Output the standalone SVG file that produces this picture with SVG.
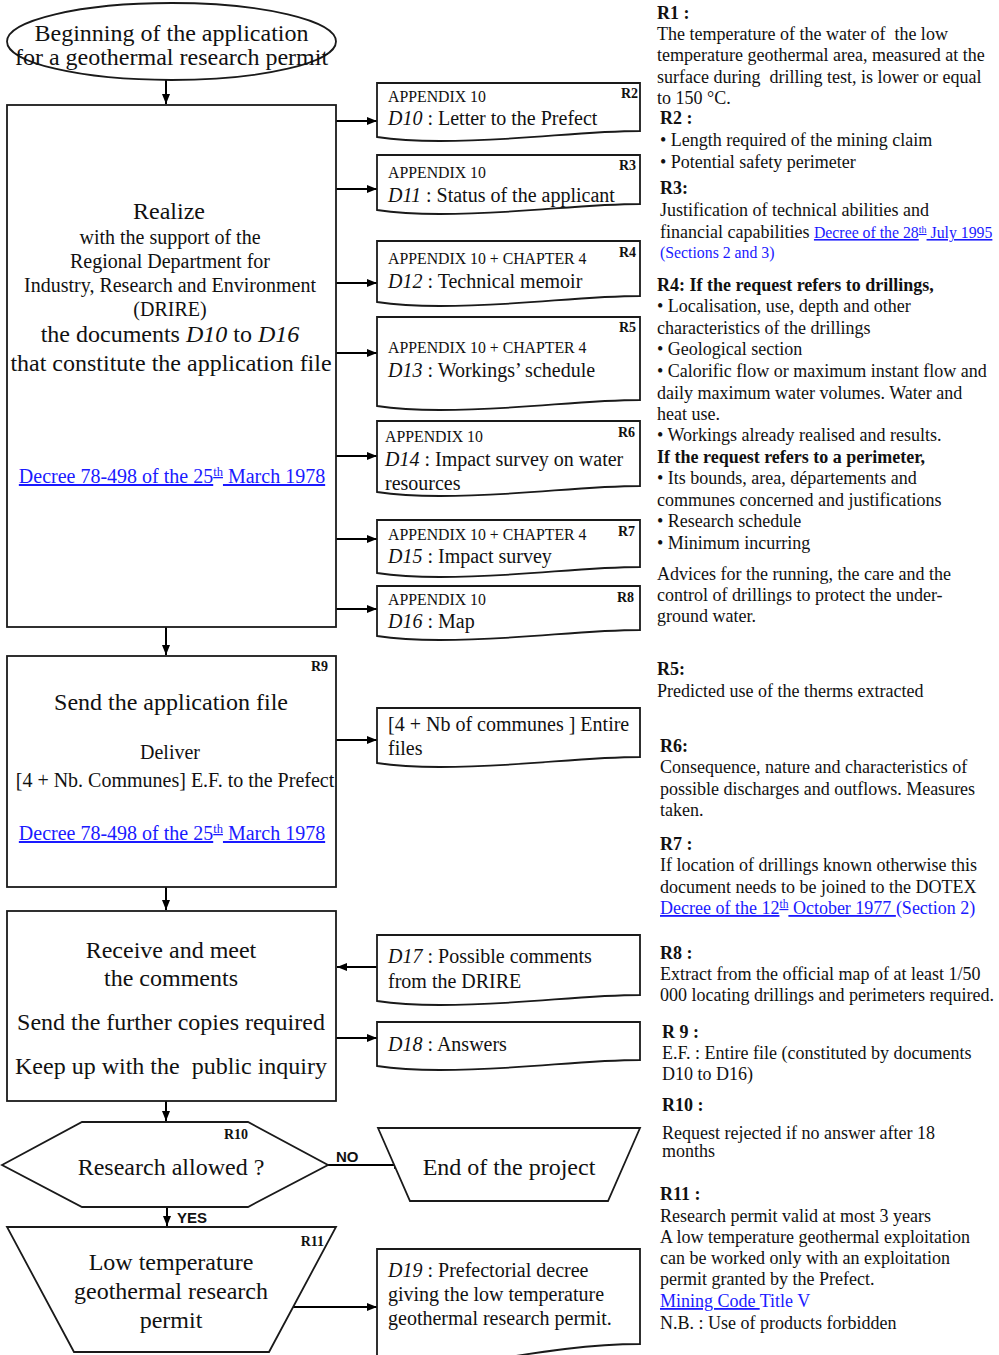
<svg xmlns="http://www.w3.org/2000/svg" width="999" height="1355" viewBox="0 0 999 1355">
  <defs>
    <marker id="ah" viewBox="0 0 10 10" refX="10" refY="5" markerWidth="10" markerHeight="10" markerUnits="userSpaceOnUse" orient="auto">
      <path d="M0,1 L10,5 L0,9 z" fill="#000"/>
    </marker>
  </defs>
  <style>
    .shape { fill: #fff; stroke: #1a1a1a; stroke-width: 1.8; }
    .conn { fill: none; stroke: #000; stroke-width: 2; marker-end: url(#ah); }
    text { font-family: "Liberation Serif", "Times New Roman", serif; fill: #111; }
    .big { font-size: 24px; }
    .mid { font-size: 20px; }
    .doc { font-size: 20px; }
    .app { font-size: 15.8px; }
    .ref { font-size: 14px; font-weight: bold; }
    .note { font-size: 18px; }
    .noteb { font-size: 18px; font-weight: bold; }
    .link { fill: #1a1aff; text-decoration: underline; }
    .blue { fill: #1a1aff; }
    .small { font-size: 15.8px; }
    .lbl { font-family: "Liberation Sans", Arial, sans-serif; font-size: 15px; font-weight: bold; }
    .c { text-anchor: middle; }
    .r { text-anchor: end; }
  </style>

  <!-- Connectors -->
  <g id="connectors">
    <line class="conn" x1="166" y1="80" x2="166" y2="104"/>
    <line class="conn" x1="336" y1="121" x2="377" y2="121"/>
    <line class="conn" x1="336" y1="189" x2="377" y2="189"/>
    <line class="conn" x1="336" y1="283" x2="377" y2="283"/>
    <line class="conn" x1="336" y1="353" x2="377" y2="353"/>
    <line class="conn" x1="336" y1="456" x2="377" y2="456"/>
    <line class="conn" x1="336" y1="539" x2="377" y2="539"/>
    <line class="conn" x1="336" y1="609" x2="377" y2="609"/>
    <line class="conn" x1="166" y1="627" x2="166" y2="655"/>
    <line class="conn" x1="336" y1="740" x2="377" y2="740"/>
    <line class="conn" x1="166" y1="887" x2="166" y2="910"/>
    <line class="conn" x1="377" y1="967" x2="337" y2="967"/>
    <line class="conn" x1="336" y1="1038" x2="377" y2="1038"/>
    <line class="conn" x1="166" y1="1101" x2="166" y2="1121"/>
    <line class="conn" x1="328" y1="1165" x2="404" y2="1165"/>
    <line class="conn" x1="167" y1="1207" x2="167" y2="1226"/>
    <line class="conn" x1="293" y1="1307" x2="377" y2="1307"/>
    <text class="lbl" x="336" y="1162">NO</text>
    <text class="lbl" x="177" y="1223">YES</text>
  </g>

  <!-- Start terminator -->
  <g id="start">
    <ellipse class="shape" cx="171.5" cy="41.5" rx="164.5" ry="38.5"/>
    <text class="big c" x="171.5" y="41">Beginning of the application</text>
    <text class="big c" x="171.5" y="65">for a geothermal research permit</text>
  </g>

  <!-- Realize documents -->
  <g id="realize">
    <rect class="shape" x="7" y="105" width="329" height="522"/>
    <text class="big c" x="169" y="219">Realize</text>
    <text class="mid c" x="170" y="244">with the support of the</text>
    <text class="mid c" x="170" y="268">Regional Department for</text>
    <text class="mid c" x="170" y="292">Industry, Research and Environment</text>
    <text class="mid c" x="170" y="316">(DRIRE)</text>
    <text class="big c" x="170" y="342">the documents <tspan font-style="italic">D10</tspan> to <tspan font-style="italic">D16</tspan></text>
    <text class="big c" x="171" y="371">that constitute the application file</text>
    <text class="link c" x="172" y="483" font-size="20">Decree 78-498 of the 25<tspan font-size="12.5" dy="-7">th</tspan><tspan dy="7"> March 1978</tspan></text>
  </g>

  <!-- Document D10 -->
  <g id="d10">
    <path class="shape" d="M377,83 H640 V131 C580,131 520,141 440,141 C410,141 390,139 377,137 Z"/>
    <text class="app" x="388" y="102">APPENDIX 10</text>
    <text class="doc" x="388" y="125"><tspan font-style="italic">D10</tspan> : Letter to the Prefect</text>
    <text class="ref r" x="638" y="98">R2</text>
  </g>

  <!-- Document D11 -->
  <g id="d11">
    <path class="shape" d="M377,155 H640 V204 C580,204 520,214 440,214 C410,214 390,212 377,210 Z"/>
    <text class="app" x="388" y="178">APPENDIX 10</text>
    <text class="doc" x="388" y="202"><tspan font-style="italic">D11</tspan> : Status of the applicant</text>
    <text class="ref r" x="636" y="170">R3</text>
  </g>

  <!-- Document D12 -->
  <g id="d12">
    <path class="shape" d="M377,241 H640 V296 C580,296 520,306 440,306 C410,306 390,304 377,302 Z"/>
    <text class="app" x="388" y="264">APPENDIX 10 + CHAPTER 4</text>
    <text class="doc" x="388" y="288"><tspan font-style="italic">D12</tspan> : Technical memoir</text>
    <text class="ref r" x="636" y="257">R4</text>
  </g>

  <!-- Document D13 -->
  <g id="d13">
    <path class="shape" d="M377,317 H640 V400 C580,400 520,410 440,410 C410,410 390,408 377,406 Z"/>
    <text class="app" x="388" y="353">APPENDIX 10 + CHAPTER 4</text>
    <text class="doc" x="388" y="377"><tspan font-style="italic">D13</tspan> : Workings’ schedule</text>
    <text class="ref r" x="636" y="332">R5</text>
  </g>

  <!-- Document D14 -->
  <g id="d14">
    <path class="shape" d="M377,421 H640 V486 C580,486 520,496 440,496 C410,496 390,494 377,492 Z"/>
    <text class="app" x="385" y="442">APPENDIX 10</text>
    <text class="doc" x="385" y="466"><tspan font-style="italic">D14</tspan> : Impact survey on water</text>
    <text class="doc" x="385" y="490">resources</text>
    <text class="ref r" x="635" y="437">R6</text>
  </g>

  <!-- Document D15 -->
  <g id="d15">
    <path class="shape" d="M377,520 H640 V567 C580,567 520,577 440,577 C410,577 390,575 377,573 Z"/>
    <text class="app" x="388" y="540">APPENDIX 10 + CHAPTER 4</text>
    <text class="doc" x="388" y="563"><tspan font-style="italic">D15</tspan> : Impact survey</text>
    <text class="ref r" x="635" y="536">R7</text>
  </g>

  <!-- Document D16 -->
  <g id="d16">
    <path class="shape" d="M377,586 H640 V630 C580,630 520,640 440,640 C410,640 390,638 377,636 Z"/>
    <text class="app" x="388" y="605">APPENDIX 10</text>
    <text class="doc" x="388" y="628"><tspan font-style="italic">D16</tspan> : Map</text>
    <text class="ref r" x="634" y="602">R8</text>
  </g>

  <!-- Send the application file -->
  <g id="send">
    <rect class="shape" x="7" y="656" width="329" height="231"/>
    <text class="ref r" x="328" y="671">R9</text>
    <text class="big c" x="171" y="710">Send the application file</text>
    <text class="mid c" x="170" y="759">Deliver</text>
    <text class="c" x="175" y="787" font-size="20">[4 + Nb. Communes] E.F. to the Prefect</text>
    <text class="link c" x="172" y="840" font-size="20">Decree 78-498 of the 25<tspan font-size="12.5" dy="-7">th</tspan><tspan dy="7"> March 1978</tspan></text>
  </g>

  <!-- Entire files document -->
  <g id="entire-files">
    <path class="shape" d="M377,708 H640 V757 C580,757 520,767 440,767 C410,767 390,765 377,763 Z"/>
    <text class="doc" x="388" y="731">[4 + Nb of communes ] Entire</text>
    <text class="doc" x="388" y="755">files</text>
  </g>

  <!-- Receive and meet the comments -->
  <g id="receive">
    <rect class="shape" x="7" y="911" width="329" height="190"/>
    <text class="big c" x="171" y="958">Receive and meet</text>
    <text class="big c" x="171" y="986">the comments</text>
    <text class="big c" x="171" y="1030">Send the further copies required</text>
    <text class="big c" x="171" y="1074">Keep up with the&#160; public inquiry</text>
  </g>

  <!-- Document D17 -->
  <g id="d17">
    <path class="shape" d="M377,935 H640 V995 C580,995 520,1005 440,1005 C410,1005 390,1003 377,1001 Z"/>
    <text class="doc" x="388" y="963"><tspan font-style="italic">D17</tspan> : Possible comments</text>
    <text class="doc" x="388" y="988">from the DRIRE</text>
  </g>

  <!-- Document D18 -->
  <g id="d18">
    <path class="shape" d="M377,1022 H640 V1060 C580,1060 520,1070 440,1070 C410,1070 390,1068 377,1066 Z"/>
    <text class="doc" x="388" y="1051"><tspan font-style="italic">D18</tspan> : Answers</text>
  </g>

  <!-- Decision -->
  <g id="decision">
    <polygon class="shape" points="2,1165 82,1122 248,1122 328,1165 248,1207 82,1207"/>
    <text class="ref r" x="248" y="1139">R10</text>
    <text class="big c" x="171" y="1175">Research allowed ?</text>
  </g>

  <!-- End of the project -->
  <g id="end">
    <polygon class="shape" points="378,1128 640,1128 608,1201 410,1201"/>
    <text class="big c" x="509" y="1175">End of the project</text>
  </g>

  <!-- Research permit -->
  <g id="permit">
    <polygon class="shape" points="7,1227 336,1227 269,1352 74,1352"/>
    <text class="ref r" x="324" y="1246">R11</text>
    <text class="big c" x="171" y="1270">Low temperature</text>
    <text class="big c" x="171" y="1299">geothermal research</text>
    <text class="big c" x="171" y="1328">permit</text>
  </g>

  <!-- Document D19 -->
  <g id="d19">
    <path class="shape" d="M377,1249 H640 V1344 C590,1344 540,1352 490,1360 L377,1360 Z"/>
    <text class="doc" x="388" y="1277"><tspan font-style="italic">D19</tspan> : Prefectorial decree</text>
    <text class="doc" x="388" y="1301">giving the low temperature</text>
    <text class="doc" x="388" y="1325">geothermal research permit.</text>
  </g>

  <!-- Remarks column -->
  <g id="remarks">
    <text class="noteb" x="657" y="19">R1 :</text>
    <text class="note" x="657" y="40">The temperature of the water of&#160; the low</text>
    <text class="note" x="657" y="61">temperature geothermal area, measured at the</text>
    <text class="note" x="657" y="83">surface during&#160; drilling test, is lower or equal</text>
    <text class="note" x="657" y="104">to 150 °C.</text>

    <text class="noteb" x="660" y="124">R2 :</text>
    <text class="note" x="660" y="146">• Length required of the mining claim</text>
    <text class="note" x="660" y="168">• Potential safety perimeter</text>

    <text class="noteb" x="660" y="194">R3:</text>
    <text class="note" x="660" y="216">Justification of technical abilities and</text>
    <text class="note" x="660" y="238">financial capabilities <tspan class="link small">Decree of the 28<tspan font-size="10" dy="-5">th</tspan><tspan dy="5"> July 1995</tspan></tspan></text>
    <text class="small blue" x="660" y="258">(Sections 2 and 3)</text>

    <text class="noteb" x="657" y="291">R4: If the request refers to drillings,</text>
    <text class="note" x="657" y="312">• Localisation, use, depth and other</text>
    <text class="note" x="657" y="334">characteristics of the drillings</text>
    <text class="note" x="657" y="355">• Geological section</text>
    <text class="note" x="657" y="377">• Calorific flow or maximum instant flow and</text>
    <text class="note" x="657" y="399">daily maximum water volumes. Water and</text>
    <text class="note" x="657" y="420">heat use.</text>
    <text class="note" x="657" y="441">• Workings already realised and results.</text>
    <text class="noteb" x="657" y="463">If the request refers to a perimeter,</text>
    <text class="note" x="657" y="484">• Its bounds, area, départements and</text>
    <text class="note" x="657" y="506">communes concerned and justifications</text>
    <text class="note" x="657" y="527">• Research schedule</text>
    <text class="note" x="657" y="549">• Minimum incurring</text>
    <text class="note" x="657" y="580">Advices for the running, the care and the</text>
    <text class="note" x="657" y="601">control of drillings to protect the under-</text>
    <text class="note" x="657" y="622">ground water.</text>

    <text class="noteb" x="657" y="675">R5:</text>
    <text class="note" x="657" y="697">Predicted use of the therms extracted</text>

    <text class="noteb" x="660" y="752">R6:</text>
    <text class="note" x="660" y="773">Consequence, nature and characteristics of</text>
    <text class="note" x="660" y="795">possible discharges and outflows. Measures</text>
    <text class="note" x="660" y="816">taken.</text>

    <text class="noteb" x="660" y="850">R7 :</text>
    <text class="note" x="660" y="871">If location of drillings known otherwise this</text>
    <text class="note" x="660" y="893">document needs to be joined to the DOTEX</text>
    <text class="note" x="660" y="914"><tspan class="link">Decree of the 12<tspan font-size="11.5" dy="-6">th</tspan><tspan dy="6"> October 1977 </tspan></tspan><tspan class="blue">(Section 2)</tspan></text>

    <text class="noteb" x="660" y="959">R8 :</text>
    <text class="note" x="660" y="980">Extract from the official map of at least 1/50</text>
    <text class="note" x="660" y="1001">000 locating drillings and perimeters required.</text>

    <text class="noteb" x="662" y="1038">R 9 :</text>
    <text class="note" x="662" y="1059">E.F. : Entire file (constituted by documents</text>
    <text class="note" x="662" y="1080">D10 to D16)</text>

    <text class="noteb" x="662" y="1111">R10 :</text>
    <text class="note" x="662" y="1139">Request rejected if no answer after 18</text>
    <text class="note" x="662" y="1157">months</text>

    <text class="noteb" x="660" y="1200" font-size="19.5">R11 :</text>
    <text class="note" x="660" y="1222">Research permit valid at most 3 years</text>
    <text class="note" x="660" y="1243">A low temperature geothermal exploitation</text>
    <text class="note" x="660" y="1264">can be worked only with an exploitation</text>
    <text class="note" x="660" y="1285">permit granted by the Prefect.</text>
    <text class="note" x="660" y="1307"><tspan class="link">Mining Code </tspan><tspan class="blue">Title V</tspan></text>
    <text class="note" x="660" y="1329">N.B. : Use of products forbidden</text>
  </g>
</svg>
